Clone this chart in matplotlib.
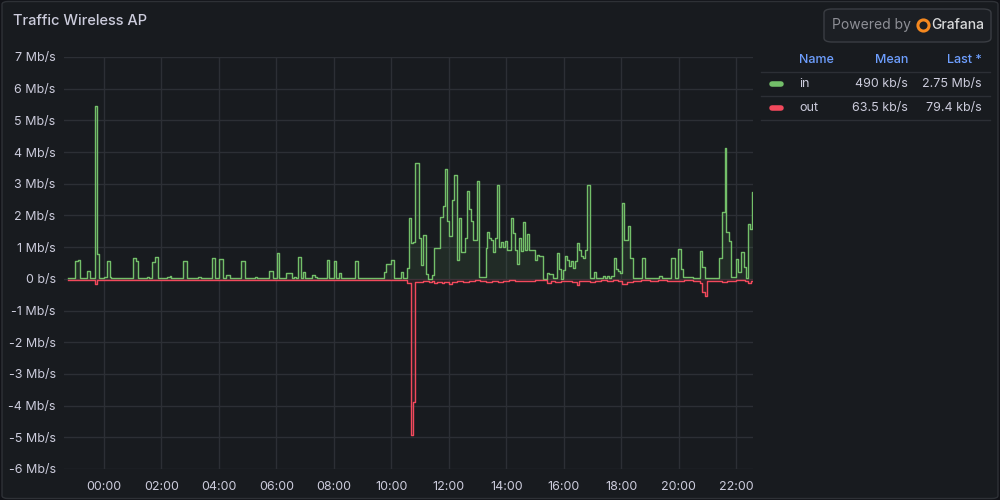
import matplotlib
matplotlib.use('Agg')
import matplotlib.pyplot as plt
from matplotlib.patches import FancyBboxPatch
from matplotlib.lines import Line2D
from matplotlib.ticker import FuncFormatter

plt.rcParams['font.family'] = ['Inter', 'DejaVu Sans']

# time in hours from midnight (negative = previous evening), value in Mb/s
in_hours = [-1.25, -1.0, -0.9, -0.825, -0.58, -0.477, -0.303, -0.233, -0.164, 0.0,
            0.115, 0.198, 0.24, 0.31, 0.38, 0.59, 0.66, 0.94, 1.02, 1.1,
            1.19, 1.48, 1.57, 1.68, 1.775, 1.87, 2.2, 2.29, 2.34, 2.76,
            2.88, 3.28, 3.37, 3.77, 3.85, 4.01, 4.13, 4.26, 4.375, 4.62,
            4.69, 4.78, 4.9, 5.01, 5.27, 5.34, 5.43, 5.51, 5.75, 5.87,
            6.03, 6.1, 6.33, 6.53, 6.6, 6.68, 6.76, 6.85, 6.94, 7.01,
            7.23, 7.355, 7.42, 7.56, 7.66, 7.77, 7.84, 8.02, 8.085, 8.19,
            8.26, 8.75, 8.85, 9.76, 9.83, 10.0, 10.1, 10.35, 10.42, 10.54,
            10.605, 10.675, 10.745, 10.815, 10.95, 11.02, 11.09, 11.2, 11.27, 11.405,
            11.475, 11.685, 11.79, 11.86, 11.93, 12.0, 12.1, 12.18, 12.28, 12.345,
            12.415, 12.555, 12.625, 12.695, 12.765, 12.835, 12.97, 13.04, 13.3, 13.34,
            13.41, 13.48, 13.55, 13.62, 13.69, 13.76, 13.83, 13.9, 13.97, 14.04,
            14.18, 14.25, 14.32, 14.385, 14.455, 14.525, 14.595, 14.665, 14.735, 14.8,
            15.01, 15.08, 15.15, 15.27, 15.41, 15.48, 15.62, 15.76, 15.83, 15.9,
            15.97, 16.03, 16.1, 16.17, 16.24, 16.31, 16.38, 16.45, 16.52, 16.59,
            16.66, 16.73, 16.82, 16.93, 17.0, 17.065, 17.135, 17.37, 17.44, 17.51,
            17.58, 17.65, 17.76, 17.83, 17.9, 17.97, 18.04, 18.11, 18.25, 18.32,
            18.42, 18.74, 18.83, 19.33, 19.43, 19.75, 19.86, 19.99, 20.1, 20.16,
            20.4, 20.5, 20.755, 20.825, 20.92, 21.42, 21.515, 21.6, 21.665, 21.745,
            21.82, 21.99, 22.07, 22.18, 22.265, 22.345, 22.425, 22.49, 22.56, 22.6]
in_mbps = [0.02, 0.56, 0.60, 0.02, 0.24, 0.02, 5.45, 0.78, 0.02, 0.05,
           0.56, 0.05, 0.02, 0.04, 0.02, 0.04, 0.02, 0.04, 0.65, 0.56,
           0.02, 0.05, 0.02, 0.53, 0.68, 0.02, 0.05, 0.10, 0.02, 0.56,
           0.02, 0.07, 0.02, 0.65, 0.02, 0.62, 0.02, 0.13, 0.02, 0.04,
           0.02, 0.56, 0.04, 0.02, 0.07, 0.02, 0.04, 0.02, 0.24, 0.02,
           0.83, 0.04, 0.19, 0.02, 0.05, 0.02, 0.68, 0.02, 0.22, 0.02,
           0.13, 0.07, 0.02, 0.03, 0.02, 0.60, 0.02, 0.56, 0.02, 0.19,
           0.02, 0.56, 0.02, 0.22, 0.46, 0.58, 0.02, 0.21, 0.03, 0.34,
           1.91, 1.13, 1.17, 3.65, 1.28, 0.43, 1.37, 0.14, 0.0, 0.13,
           0.96, 1.95, 2.31, 3.46, 1.81, 1.36, 2.49, 3.27, 0.58, 1.91,
           0.86, 1.28, 2.77, 2.20, 1.81, 1.23, 3.10, 0.06, 0.97, 1.48,
           1.28, 1.23, 0.86, 1.28, 2.95, 1.02, 1.17, 1.02, 1.20, 0.90,
           1.91, 1.46, 0.90, 0.48, 1.28, 0.87, 1.78, 0.90, 1.40, 0.90,
           0.60, 0.76, 0.73, 0.0, 0.19, 0.16, 0.02, 0.82, 0.30, 0.0,
           0.27, 0.73, 0.60, 0.39, 0.55, 0.34, 0.55, 1.13, 0.91, 0.73,
           0.66, 0.90, 2.95, 0.03, 0.02, 0.21, 0.03, 0.10, 0.03, 0.10,
           0.03, 0.08, 0.66, 0.30, 0.25, 0.19, 2.39, 1.23, 1.66, 0.66,
           0.04, 0.65, 0.03, 0.08, 0.03, 0.65, 0.03, 0.94, 0.30, 0.05,
           0.06, 0.03, 0.87, 0.36, 0.02, 0.67, 2.10, 4.12, 1.47, 1.20,
           0.07, 0.62, 0.23, 0.85, 0.38, 0.02, 1.73, 1.57, 2.75, 2.75]

out_hours = [-1.25, -0.303, -0.233, 0.5, 1.5, 3.0, 5.75, 5.87, 6.0, 6.1,
             8.0, 10.0, 10.54, 10.675, 10.77, 10.84, 11.1, 11.2, 11.3, 11.4,
             11.5, 11.6, 11.75, 11.85, 12.0, 12.1, 12.3, 12.5, 12.7, 12.9,
             13.1, 13.3, 13.5, 13.7, 13.9, 14.1, 14.3, 14.5, 14.7, 15.0,
             15.41, 15.55, 15.7, 15.9, 16.1, 16.3, 16.45, 16.52, 16.7, 16.9,
             17.1, 17.3, 17.5, 17.7, 17.9, 18.04, 18.2, 18.4, 18.7, 19.0,
             19.3, 19.6, 20.0, 20.2, 20.5, 20.755, 20.825, 20.92, 21.0, 21.3,
             21.5, 21.7, 22.0, 22.3, 22.425, 22.52, 22.6]
out_mbps = [-0.03, -0.16, -0.03, -0.04, -0.03, -0.04, -0.05, -0.03, -0.05, -0.03,
            -0.04, -0.05, -0.14, -4.92, -3.89, -0.10, -0.08, -0.06, -0.10, -0.07,
            -0.14, -0.10, -0.13, -0.10, -0.16, -0.10, -0.08, -0.10, -0.07, -0.05,
            -0.08, -0.10, -0.06, -0.10, -0.07, -0.05, -0.07, -0.06, -0.07, -0.05,
            -0.14, -0.08, -0.10, -0.07, -0.08, -0.10, -0.19, -0.08, -0.06, -0.10,
            -0.07, -0.05, -0.06, -0.05, -0.08, -0.16, -0.10, -0.06, -0.05, -0.06,
            -0.05, -0.08, -0.08, -0.05, -0.06, -0.12, -0.40, -0.54, -0.06, -0.08,
            -0.10, -0.08, -0.05, -0.06, -0.12, -0.08, -0.08]

tick_hours = [0, 2, 4, 6, 8, 10, 12, 14, 16, 18, 20, 22]
tick_labels = ['00:00', '02:00', '04:00', '06:00', '08:00', '10:00',
               '12:00', '14:00', '16:00', '18:00', '20:00', '22:00']

legend_names = ['in', 'out']
legend_mean = ['490 kb/s', '63.5 kb/s']
legend_last = ['2.75 Mb/s', '79.4 kb/s']
legend_colors = ['#73bf69', '#f2495c']

bg = '#181b1f'
text_col = '#ccccdc'
grid_col = '#2c2f35'

fig = plt.figure(figsize=(10, 5), dpi=100, facecolor='#111217')
panel = FancyBboxPatch((0.002, 0.003), 0.996, 0.994, boxstyle='round,pad=0,rounding_size=0.006',
                       transform=fig.transFigure, fc=bg, ec='#2e3136', lw=1, zorder=-10)
fig.patches.append(panel)

ax = fig.add_axes([0.064, 0.062, 0.689, 0.824])
ax.set_facecolor(bg)

ax.fill_between(in_hours, in_mbps, 0, step='post', color=legend_colors[0], alpha=0.1, lw=0)
ax.step(in_hours, in_mbps, where='post', color=legend_colors[0], lw=1.0)
ax.fill_between(out_hours, out_mbps, 0, step='post', color=legend_colors[1], alpha=0.1, lw=0)
ax.step(out_hours, out_mbps, where='post', color=legend_colors[1], lw=1.0)

ax.set_xlim(-1.392, 22.59)
ax.set_ylim(-6, 7)
ax.set_yticks(range(-6, 8))
ax.yaxis.set_major_formatter(FuncFormatter(lambda v, p: '0 b/s' if v == 0 else '%d Mb/s' % v))
ax.set_xticks(tick_hours)
ax.set_xticklabels(tick_labels)
ax.grid(True, color=grid_col, lw=1)
ax.set_axisbelow(True)
for s in ax.spines.values():
    s.set_visible(False)
ax.tick_params(length=0, colors=text_col, labelsize=9, pad=6)
ax.tick_params(axis='x', pad=9)

fig.text(0.013, 0.958, 'Traffic Wireless AP', color=text_col, fontsize=10.5,
         fontweight='medium', va='center', ha='left')

# legend table
hdr_col = '#6e9fff'
fig.text(0.799, 0.88, 'Name', color=hdr_col, fontsize=9, fontweight='medium', va='center')
fig.text(0.908, 0.88, 'Mean', color=hdr_col, fontsize=9, fontweight='medium', va='center', ha='right')
fig.text(0.982, 0.88, 'Last *', color=hdr_col, fontsize=9, fontweight='medium', va='center', ha='right')
for yy in [0.856, 0.808, 0.76]:
    fig.add_artist(Line2D([0.761, 0.99], [yy, yy], color=grid_col, lw=1, transform=fig.transFigure))
for i, name in enumerate(legend_names):
    yy = 0.832 - i * 0.047
    fig.add_artist(Line2D([0.772, 0.781], [yy, yy], color=legend_colors[i], lw=4,
                          solid_capstyle='round', transform=fig.transFigure))
    fig.text(0.799, yy, name, color=text_col, fontsize=9, va='center')
    fig.text(0.908, yy, legend_mean[i], color=text_col, fontsize=9, va='center', ha='right')
    fig.text(0.982, yy, legend_last[i], color=text_col, fontsize=9, va='center', ha='right')

# powered by badge
badge = FancyBboxPatch((0.824, 0.916), 0.167, 0.066, boxstyle='round,pad=0,rounding_size=0.008',
                       transform=fig.transFigure, fc='#1c1f24', ec='#3a3d43', lw=1)
fig.patches.append(badge)
fig.text(0.832, 0.95, 'Powered by', color='#8e8f96', fontsize=10, va='center')
fig.add_artist(Line2D([0.9225], [0.95], marker='o', markersize=8, mfc='none', mec='#f5881f',
                      mew=2.2, transform=fig.transFigure, zorder=5))
fig.text(0.931, 0.95, 'Grafana', color='#d8d9da', fontsize=10, fontweight='medium', va='center')

fig.savefig('out.png', dpi=100, facecolor=fig.get_facecolor())
